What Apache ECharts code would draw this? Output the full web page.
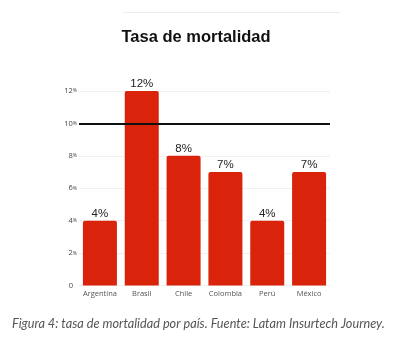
<!DOCTYPE html>
<html><head><meta charset="utf-8">
<script src="https://cdn.jsdelivr.net/npm/echarts@6/dist/echarts.min.js"></script>
<style>html,body{margin:0;padding:0;background:#fff}#c{width:400px;height:341px}</style>
</head><body><div id="c"></div>
<script>
const categories = ['Argentina','Brasil','Chile','Colombia','Perú','México'];
const values = [4, 12, 8, 7, 4, 7];
const threshold = 10;
const yTicks = [0, 2, 4, 6, 8, 10, 12];
const titleText = 'Tasa de mortalidad';
const captionText = 'Figura 4: tasa de mortalidad por país. Fuente: Latam Insurtech Journey.';

const chart = echarts.init(document.getElementById('c'), null, {renderer:'canvas'});
chart.setOption({
  animation:false,
  backgroundColor:'#fff',
  graphic:[
    {type:'line',shape:{x1:123,y1:12.5,x2:340,y2:12.5},style:{stroke:'#ececec',lineWidth:1}},
    {type:'text',x:196,y:37,style:{text:titleText,align:'center',verticalAlign:'middle',
      fontFamily:'Liberation Sans, Arial, sans-serif',fontWeight:'bold',fontSize:16.5,fill:'#111'}},
    {type:'text',left:12,top:317,style:{text:captionText,fontFamily:'Lato, Open Sans, sans-serif',fontStyle:'italic',fontSize:12.7,fill:'#555'}}
  ],
  grid:{left:79,top:91,width:251,height:194.5,containLabel:false},
  xAxis:{type:'category',data:categories,
    axisLine:{show:false},axisTick:{show:false},
    axisLabel:{interval:0,fontFamily:'Open Sans, sans-serif',fontSize:7.5,color:'#555',margin:4}},
  yAxis:{type:'value',min:0,max:12,interval:2,
    axisLine:{show:false},axisTick:{show:false},
    splitLine:{lineStyle:{color:'#f0f0f0',width:1}},
    axisLabel:{margin:2,color:'#444',fontFamily:'Open Sans, sans-serif',
      formatter:v=> v===0 ? '{z|0}' : '{n|'+v+'}{p|%}',
      rich:{n:{fontSize:7.5,color:'#444'},p:{fontSize:5,color:'#444'},z:{fontSize:7.5,color:'#444',padding:[0,4,0,0]}}}},
  series:[{type:'bar',data:values,barWidth:34,
    itemStyle:{color:'#d9230b',borderRadius:[2,2,0,0]},
    label:{show:true,position:'top',distance:1,formatter:p=>p.value+'%',
      fontFamily:'Liberation Sans, Arial, sans-serif',fontSize:11.5,color:'#222'},
    markLine:{symbol:'none',silent:true,label:{show:false},
      lineStyle:{color:'#111',width:2,type:'solid'},
      data:[{yAxis:threshold}]}
  }]
});
</script></body></html>
